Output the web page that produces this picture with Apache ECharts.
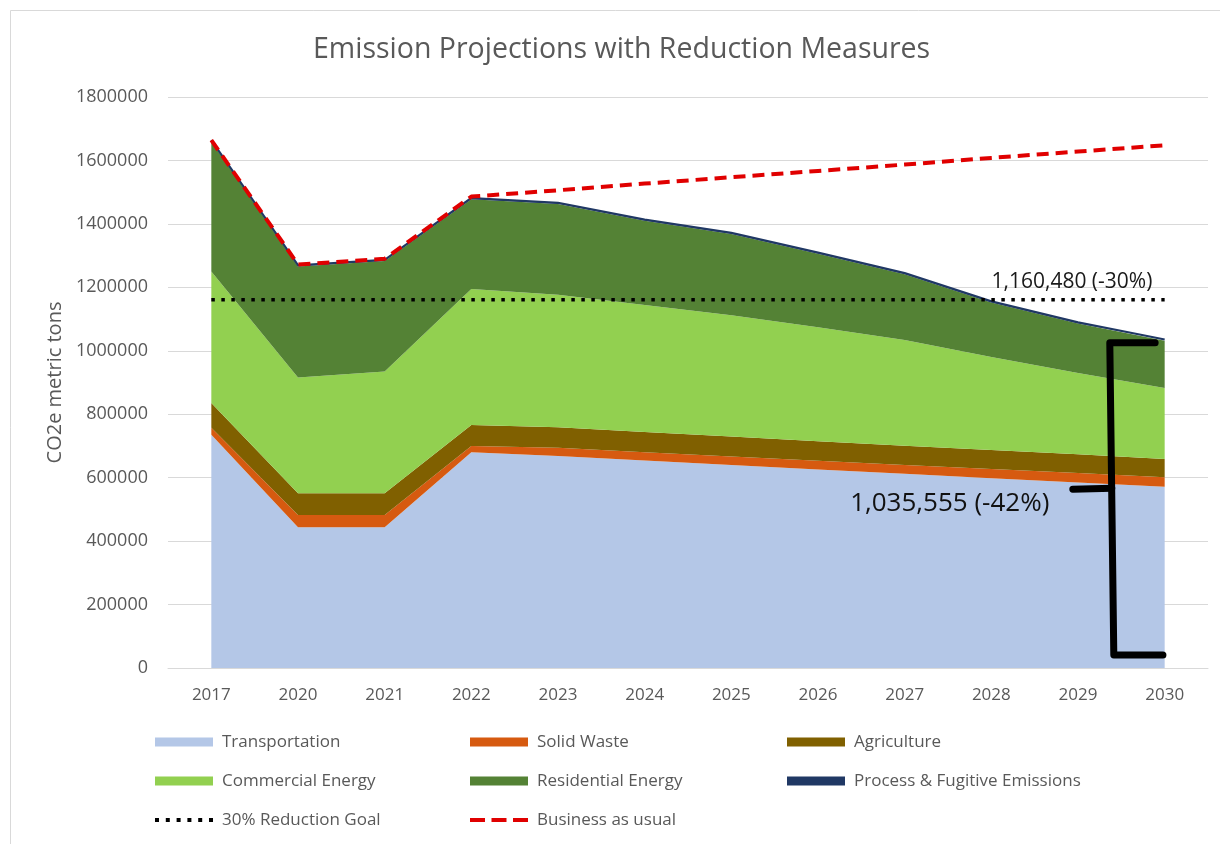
<!DOCTYPE html>
<html><head><meta charset="utf-8">
<script src="https://cdn.jsdelivr.net/npm/echarts@6/dist/echarts.min.js"></script>
<style>html,body{margin:0;padding:0;background:#fff}#c{width:1220px;height:844px}</style>
</head><body><div id="c"></div>
<script>
// ---- data ----
const years = ['2017','2020','2021','2022','2023','2024','2025','2026','2027','2028','2029','2030'];
const transportation = [735000, 444000, 444000, 680000, 668000, 654000, 640000, 626000, 612000, 598000, 585000, 571000];
const solidWaste     = [22000, 38000, 38000, 20000, 26000, 26000, 27000, 27000, 28000, 29000, 30000, 30000];
const agriculture    = [78000, 69000, 69000, 66000, 65000, 64000, 63000, 62000, 61000, 60000, 59000, 58000];
const commercial     = [415000, 365000, 384000, 429000, 418000, 400000, 382000, 359000, 333000, 293000, 256000, 224000];
const residential    = [410000, 350000, 348000, 283000, 286000, 266000, 256000, 232000, 207000, 172000, 156000, 148500];
const processFugitive= [4000, 4000, 4000, 4000, 4000, 4000, 4000, 4000, 4000, 4000, 4000, 4000];
const reductionGoal  = [1160480, 1160480, 1160480, 1160480, 1160480, 1160480, 1160480, 1160480, 1160480, 1160480, 1160480, 1160480];
const businessAsUsual= [1664000, 1272000, 1290000, 1486000, 1506000, 1527000, 1547000, 1567000, 1587000, 1608000, 1628000, 1648000];
const yTicks = {min: 0, max: 1800000, interval: 200000};
const goalLabel = '1,160,480 (-30%)';
const reductionLabel = '1,035,555 (-42%)';

// ---- annotation anchors (category index, value) ----
const goalLabelAt = [9.93, 1217000];
const reductionLabelAt = [8.52, 519000];
const bracket = {x: 10.39, top: 1025000, bottom: 41000, mid: 567000, topEnd: 10.89, bottomEnd: 10.98, midStart: 9.94};

const FONT = '"Open Sans", "Noto Sans", sans-serif';
const C = {
  transportation: '#b4c7e7', solidWaste: '#d65a10', agriculture: '#806000',
  commercial: '#92d050', residential: '#548235', process: '#203864',
  goal: '#000000', bau: '#e00000'
};

// legend icons drawn as paths (58 x 9 box)
function dashPath(n, w, gap, h) {
  let p = 'M0,0 M0,9 ';
  const y0 = (9 - h) / 2;
  for (let i = 0; i < n; i++) {
    const x = i * (w + gap);
    p += `M${x},${y0} h${w} v${h} h-${w} Z `;
  }
  return 'path://' + p.trim();
}
const dottedIcon = dashPath(6, 4, 6.8, 4);
const dashedIcon = dashPath(3, 15, 6.5, 4);

function areaSeries(name, data, color, extra) {
  return Object.assign({
    name, type: 'line', stack: 'total', data, color,
    symbol: 'none', showSymbol: false,
    lineStyle: {width: 0, color},
    areaStyle: {color, opacity: 1},
    emphasis: {disabled: true}
  }, extra || {});
}

const chart = echarts.init(document.getElementById('c'), null, {renderer: 'canvas'});

const legendText = {fontFamily: FONT, fontSize: 17, color: '#595959', lineHeight: 20, padding: [0, 0, 0, 4]};
function legendCol(left, names) {
  return {
    orient: 'vertical', left, top: 732, padding: 0, itemWidth: 58, itemHeight: 9, itemGap: 19,
    textStyle: legendText, selectedMode: false, data: names
  };
}

const option = {
  animation: false,
  backgroundColor: '#ffffff',
  title: {
    text: 'Emission Projections with Reduction Measures', left: 313, top: 35, padding: 0,
    textStyle: {fontFamily: FONT, fontSize: 28.5, fontWeight: 'normal', color: '#595959'}
  },
  grid: {left: 168, right: 12, top: 97, bottom: 176, outerBoundsMode: 'none', containLabel: false},
  xAxis: {
    type: 'category', data: years, boundaryGap: true,
    axisLine: {show: true, lineStyle: {color: '#d9d9d9'}},
    axisTick: {show: false},
    axisLabel: {fontFamily: FONT, fontSize: 17, color: '#595959', margin: 19}
  },
  yAxis: {
    type: 'value', min: yTicks.min, max: yTicks.max, interval: yTicks.interval,
    name: 'CO2e metric tons', nameLocation: 'middle', nameGap: 103,
    nameTextStyle: {fontFamily: FONT, fontSize: 20, color: '#595959'},
    axisLine: {show: false}, axisTick: {show: false},
    axisLabel: {fontFamily: FONT, fontSize: 18, color: '#595959', margin: 20, formatter: v => String(v)},
    splitLine: {show: true, lineStyle: {color: '#d9d9d9', width: 1}}
  },
  legend: [
    legendCol(155, [{name: 'Transportation', icon: 'rect'}, {name: 'Commercial Energy', icon: 'rect'}, {name: '30% Reduction Goal', icon: dottedIcon}]),
    legendCol(470, [{name: 'Solid Waste', icon: 'rect'}, {name: 'Residential Energy', icon: 'rect'}, {name: 'Business as usual', icon: dashedIcon}]),
    legendCol(787, [{name: 'Agriculture', icon: 'rect'}, {name: 'Process & Fugitive Emissions', icon: 'rect'}])
  ],
  series: [
    areaSeries('Transportation', transportation, C.transportation),
    areaSeries('Solid Waste', solidWaste, C.solidWaste),
    areaSeries('Agriculture', agriculture, C.agriculture),
    areaSeries('Commercial Energy', commercial, C.commercial),
    areaSeries('Residential Energy', residential, C.residential),
    areaSeries('Process & Fugitive Emissions', processFugitive, C.process, {lineStyle: {width: 2, color: C.process}}),
    {
      name: '30% Reduction Goal', type: 'line', data: reductionGoal, color: C.goal,
      symbol: 'none', showSymbol: false, z: 5,
      itemStyle: {color: C.goal},
      lineStyle: {width: 3.5, color: C.goal, type: [3.5, 6.5], cap: 'butt'},
      emphasis: {disabled: true}
    },
    {
      name: 'Business as usual', type: 'line', data: businessAsUsual, color: C.bau,
      symbol: 'none', showSymbol: false, z: 6,
      itemStyle: {color: C.bau},
      lineStyle: {width: 4, color: C.bau, type: [12, 7], cap: 'butt'},
      emphasis: {disabled: true}
    }
  ]
};
chart.setOption(option);

function px(idx, val) {
  const i0 = Math.min(Math.floor(idx), years.length - 2), f = idx - i0;
  const a = chart.convertToPixel({xAxisIndex: 0, yAxisIndex: 0}, [i0, val]);
  const b = chart.convertToPixel({xAxisIndex: 0, yAxisIndex: 0}, [i0 + 1, val]);
  return [a[0] + f * (b[0] - a[0]), a[1]];
}

const gl = px(goalLabelAt[0], goalLabelAt[1]);
const rl = px(reductionLabelAt[0], reductionLabelAt[1]);
const bTop = px(bracket.x, bracket.top), bTopEnd = px(bracket.topEnd, bracket.top);
const bBot = px(bracket.x, bracket.bottom), bBotEnd = px(bracket.bottomEnd, bracket.bottom);
const bMid = px(bracket.x, bracket.mid), bMidStart = px(bracket.midStart, bracket.mid);
const stroke = {stroke: '#000', lineWidth: 7, lineCap: 'round', lineJoin: 'round', fill: null};

chart.setOption({
  graphic: [
    {type: 'rect', silent: true, z: -10, shape: {x: 10.5, y: 10.5, width: 1240, height: 860},
     style: {fill: null, stroke: '#d9d9d9', lineWidth: 1}},
    {type: 'text', z: 100, x: gl[0], y: gl[1],
     style: {text: goalLabel, fontFamily: FONT, fontSize: 21, fill: '#1a1a1a', align: 'center', verticalAlign: 'middle'}},
    {type: 'text', z: 100, x: rl[0], y: rl[1],
     style: {text: reductionLabel, fontFamily: FONT, fontSize: 26, fill: '#111', align: 'center', verticalAlign: 'middle'}},
    {type: 'polyline', z: 100, shape: {points: [bTopEnd, [bTop[0] - 2, bTop[1]], [bBot[0] + 2, bBot[1]], bBotEnd]}, style: stroke},
    {type: 'line', z: 100, shape: {x1: bMidStart[0], y1: bMidStart[1] + 1, x2: bMid[0], y2: bMid[1]}, style: stroke}
  ]
});
</script>
</body></html>
